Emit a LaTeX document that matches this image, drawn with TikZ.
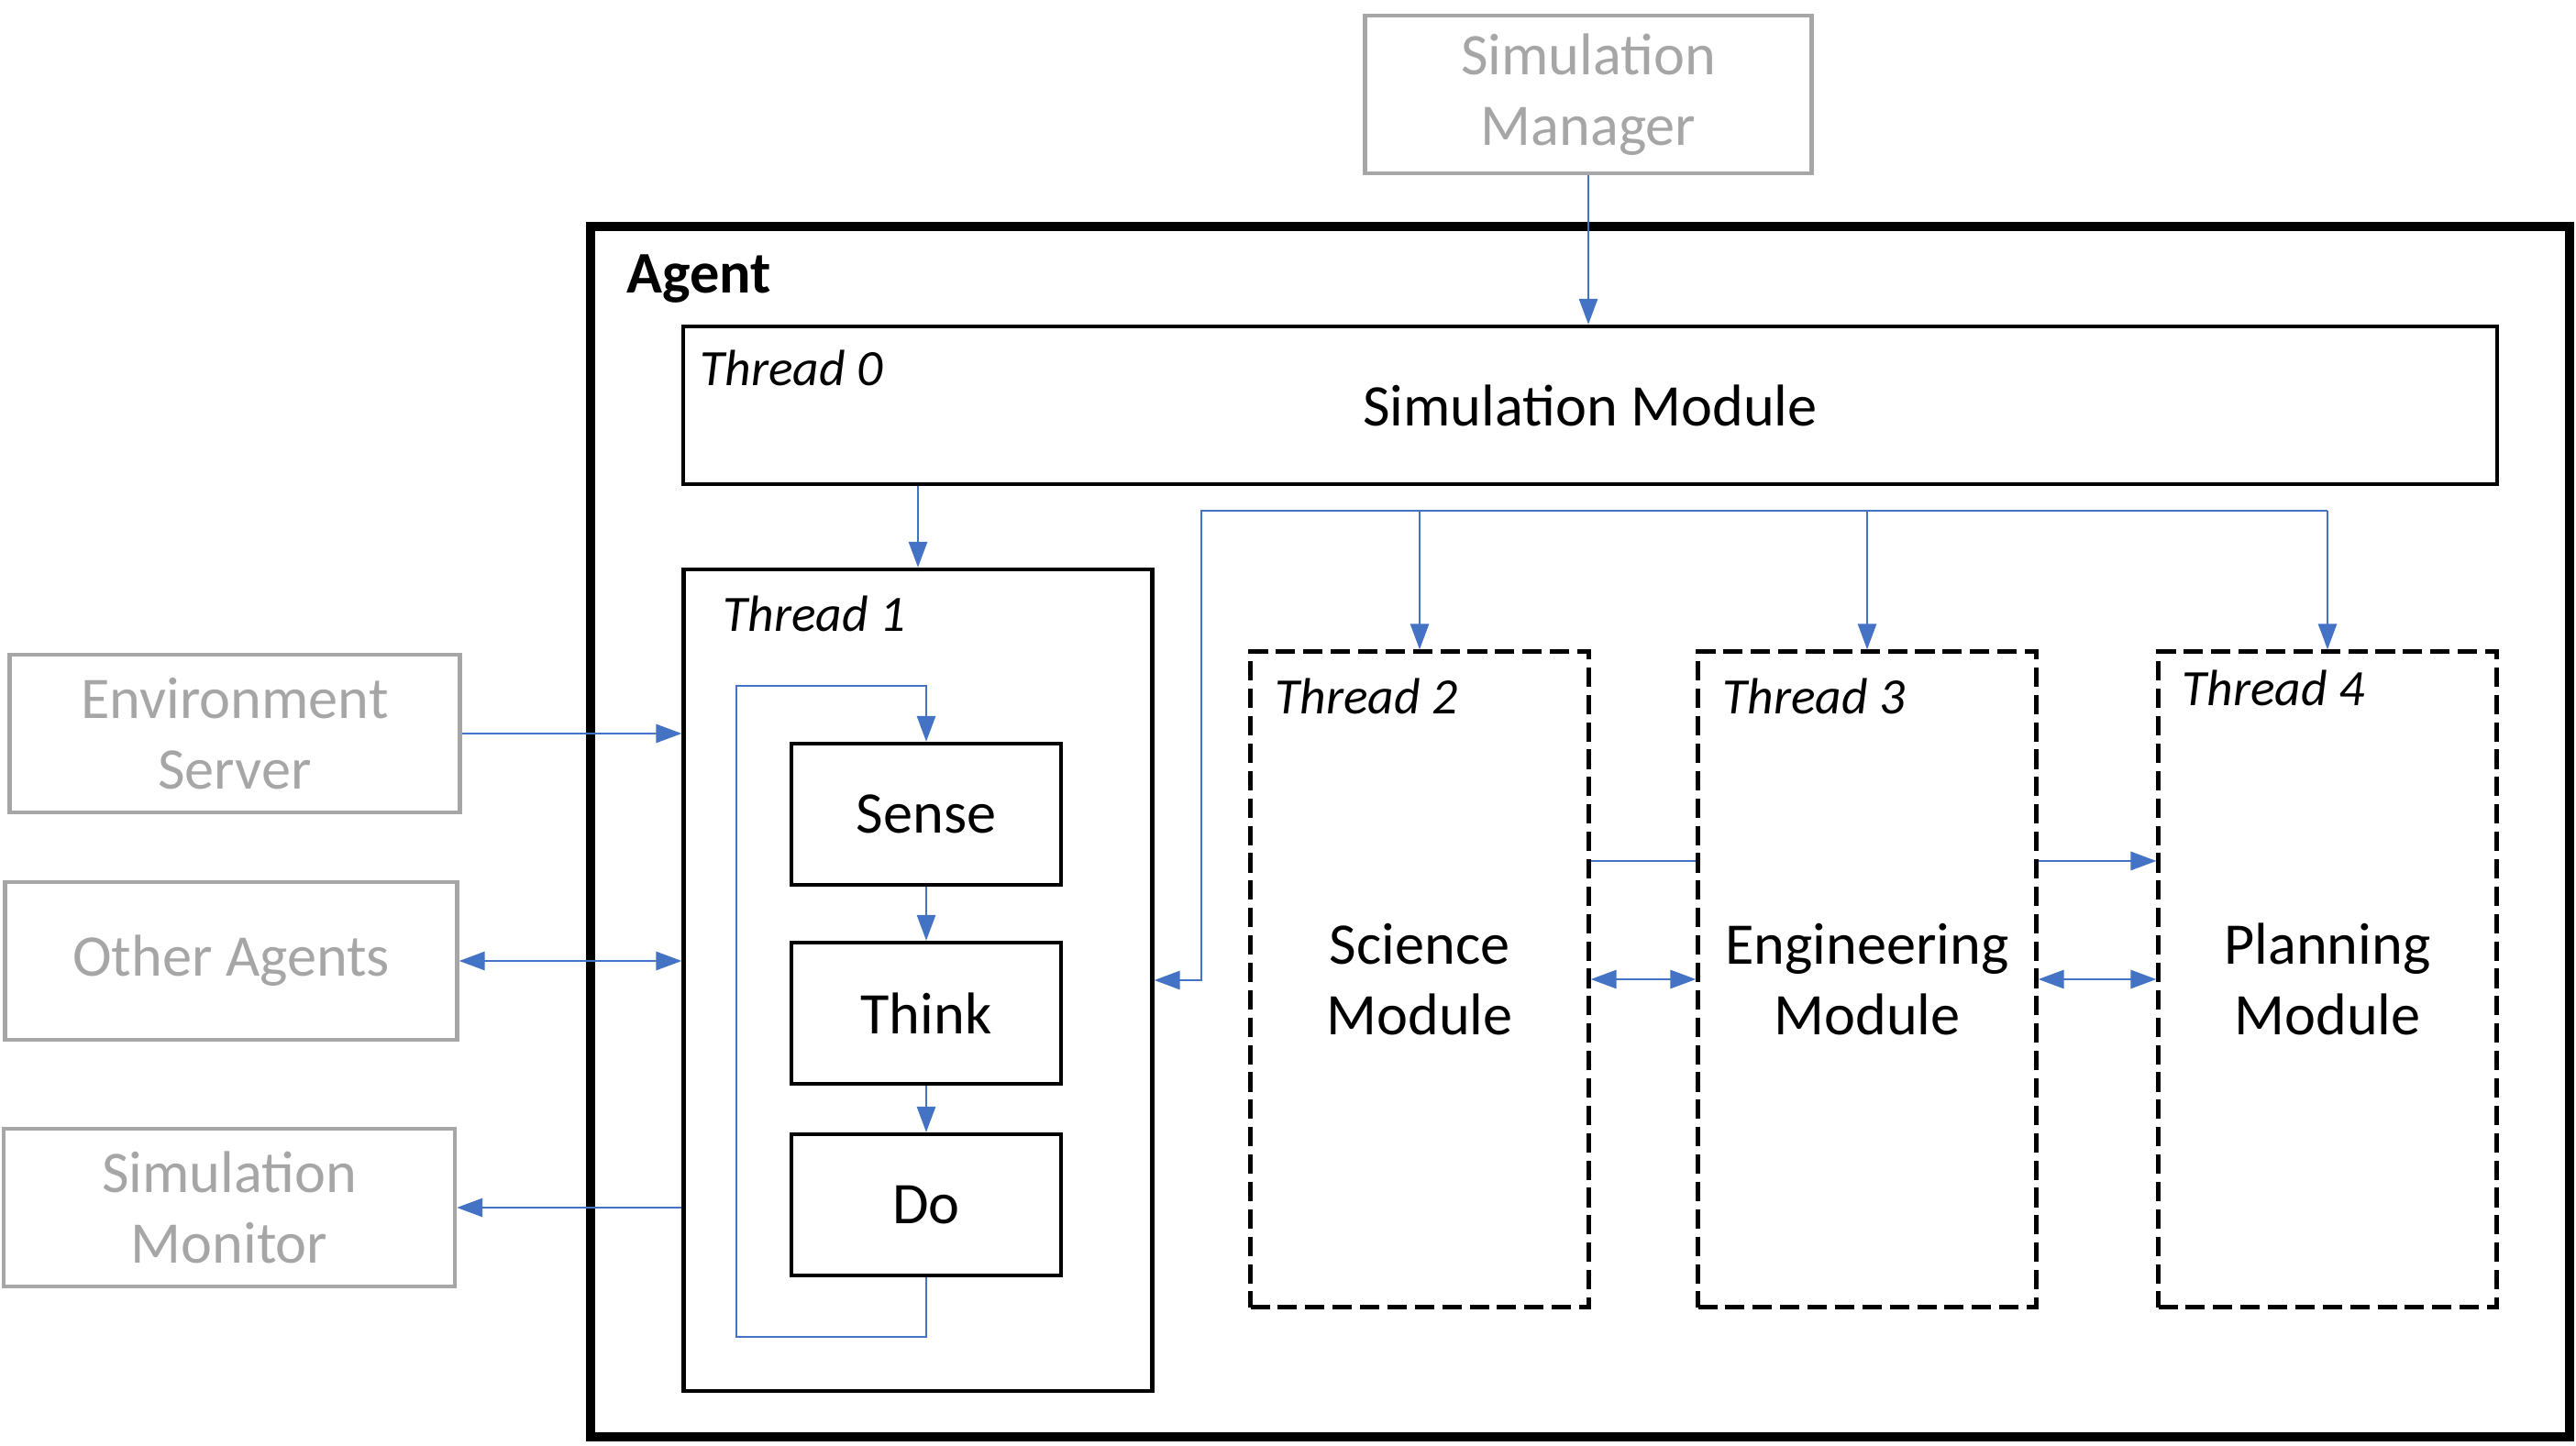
\documentclass[tikz,border=0pt]{standalone}
\usepackage{fontspec}
\setmainfont{Carlito}
\usepackage{xcolor}
\usepackage{tikz}
\usetikzlibrary{arrows.meta}

\definecolor{linkblue}{HTML}{4472C4}
\definecolor{extgray}{HTML}{A6A6A6}

\begin{document}
\begin{tikzpicture}[
  >={Triangle[length=0.28cm,width=0.2cm]},
  modbox/.style={draw, line width=1.2pt, inner sep=0pt, align=center, font=\fontsize{18.3}{22}\selectfont},
  extbox/.style={modbox, draw=extgray, text=extgray, minimum height=1.72cm},
  thrbox/.style={modbox, dash pattern=on 6pt off 2.5pt, minimum width=3.69cm, minimum height=7.15cm},
  stepbox/.style={modbox, minimum width=2.94cm, minimum height=1.54cm},
  thrlbl/.style={anchor=west, inner sep=0pt, font=\fontsize{15.8}{18}\selectfont\itshape},
  link/.style={draw=linkblue, line width=0.8pt}
]
\useasboundingbox (0,0) rectangle (28.09,15.76);

% agent frame
\node[draw, line width=2.8pt, minimum width=21.58cm, minimum height=13.20cm, inner sep=0pt] (agent) at (17.23,6.69) {};
\node[anchor=west, inner sep=0pt, font=\fontsize{18.3}{22}\selectfont\bfseries] (agentlbl) at (6.83,12.72) {Agent};

% thread 0
\node[modbox, minimum width=19.78cm, minimum height=1.72cm] (simmod) at (17.34,11.34) {Simulation Module};
\node[thrlbl] (lbl0) at (7.63,11.75) {Thread 0};

% thread 1
\node[modbox, minimum width=5.11cm, minimum height=8.96cm] (thr1) at (10.01,5.07) {};
\node[thrlbl] (lbl1) at (7.88,9.07) {Thread 1};
\node[stepbox] (sense) at (10.10,6.88) {Sense};
\node[stepbox] (think) at (10.10,4.71) {Think};
\node[stepbox] (do) at (10.10,2.62) {Do};

% threads 2-4
\node[thrbox] (thr2) at (15.48,5.08) {Science\\Module};
\node[thrbox] (thr3) at (20.36,5.08) {Engineering\\Module};
\node[thrbox] (thr4) at (25.38,5.08) {Planning\\Module};
\node[thrlbl] (lbl2) at (13.90,8.17) {Thread 2};
\node[thrlbl] (lbl3) at (18.78,8.17) {Thread 3};
\node[thrlbl] (lbl4) at (23.79,8.26) {Thread 4};

% outside
\node[extbox, minimum width=4.87cm] (simmgr) at (17.32,14.73) {Simulation\\Manager};
\node[extbox, minimum width=4.91cm] (envsrv) at (2.56,7.76) {Environment\\Server};
\node[extbox, minimum width=4.93cm] (others) at (2.52,5.28) {Other Agents};
\node[extbox, minimum width=4.92cm] (simmon) at (2.50,2.59) {Simulation\\Monitor};

\coordinate (bus) at (13.10,10.19);
\coordinate (loopbl) at (8.03,1.18);
\coordinate (looptop) at (8.03,8.28);

% connectors
\draw[link,->] (simmgr.south) -- (simmgr.south |- simmod.north);
\draw[link,->] (thr1.north |- simmod.south) -- (thr1.north);
\draw[link,->] (thr4.north |- bus) -- (bus) |- (thr1.east);
\draw[link,->] (thr2.north |- bus) -- (thr2.north);
\draw[link,->] (thr3.north |- bus) -- (thr3.north);
\draw[link,->] (thr4.north |- bus) -- (thr4.north);
\draw[link,->] (sense) -- (think);
\draw[link,->] (think) -- (do);
\draw[link,->] (do.south) |- (loopbl) -- (looptop) -| (sense.north);
\draw[link] ([yshift=1.29cm]thr2.east) -- ([yshift=1.29cm]thr3.west);
\draw[link,<->] (thr2) -- (thr3);
\draw[link,->] ([yshift=1.29cm]thr3.east) -- ([yshift=1.29cm]thr4.west);
\draw[link,<->] (thr3) -- (thr4);
\draw[link,->] (envsrv.east) -- (thr1.west |- envsrv.east);
\draw[link,<->] (others.east) -- (thr1.west |- others.east);
\draw[link,->] (thr1.west |- simmon.east) -- (simmon.east);
\end{tikzpicture}
\end{document}
